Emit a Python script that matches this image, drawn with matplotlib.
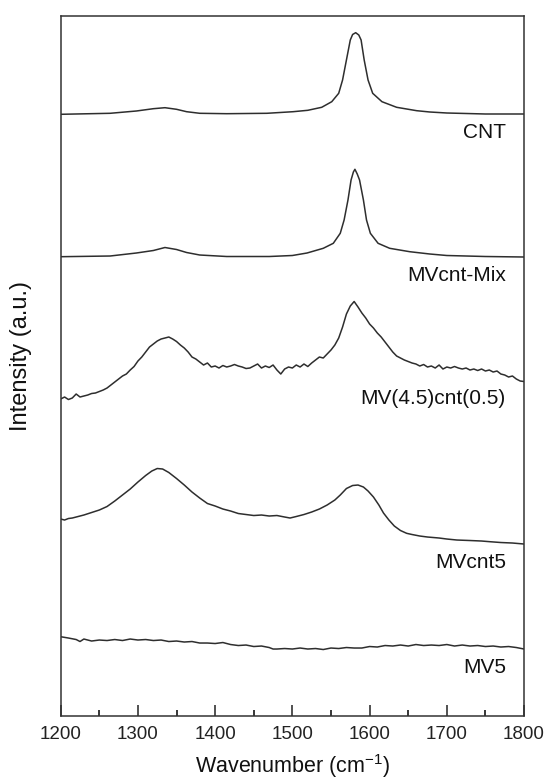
import numpy as np
import matplotlib
matplotlib.use("Agg")
import matplotlib.pyplot as plt
from matplotlib.ticker import MultipleLocator

plt.rcParams['font.family'] = ['Liberation Sans', 'DejaVu Sans']
plt.rcParams['mathtext.default'] = 'regular'

# stacked Raman spectra (arbitrary units, offsets already included)
cnt_wn = [1200, 1264, 1298, 1320, 1335, 1350, 1363, 1380, 1415, 1467, 1501, 1520,
          1538, 1551, 1560, 1565, 1570, 1575, 1578, 1582, 1586, 1589, 1593, 1598,
          1604, 1616, 1635, 1661, 1678, 1700, 1750, 1800]
cnt_int = [601.7, 602.7, 605, 607.3, 608.3, 606.7, 604.3, 602.7, 602.3, 602.7, 604.3, 605.7,
           608.7, 614.3, 622.7, 636, 656, 676, 681.5, 683.3, 681, 676, 656, 636,
           622.7, 614.3, 608.7, 605.3, 604, 603, 602, 602]

mix_wn = [1200, 1264, 1298, 1320, 1335, 1350, 1363, 1380, 1415, 1470, 1500, 1519,
          1540, 1553, 1562, 1567, 1572, 1576, 1579, 1581, 1584, 1587, 1592, 1596,
          1601, 1611, 1626, 1652, 1678, 1700, 1750, 1800]
mix_int = [459.3, 460, 463, 465.5, 468.5, 466.5, 463.5, 461, 459.5, 459.5, 460.5, 463,
           467.7, 472.7, 482.7, 496, 516, 536, 544, 546.7, 542, 536, 516, 496,
           482.7, 472.7, 467.7, 464.3, 462, 460.5, 459.5, 459]

mv45_wn = list(range(1200, 1801, 5))
mv45_int = [317, 319, 316.5, 318, 322, 319, 320, 321, 322.5, 323,
            324.5, 326, 328, 331, 334, 337, 340, 342, 346, 349.5,
            355, 359, 364, 369, 372, 375, 377, 378, 379, 377,
            374.5, 371, 368, 364, 359, 357, 354, 351, 353, 349,
            350, 348, 350.5, 349, 350, 351.5, 350, 349, 347.5, 348,
            350, 352, 348, 350, 348.5, 351, 346, 342, 347, 349,
            348, 351, 349, 352, 349.5, 353, 356, 359, 358, 362,
            366, 371, 378, 389, 402, 410, 414.5, 409, 403, 398,
            392, 388, 383, 379, 374, 369, 364, 360, 358, 356,
            354.5, 353, 352, 350, 351.5, 349, 350, 348, 351, 347,
            349, 348, 349.5, 348, 347, 348, 346, 347, 345.5, 347,
            345, 346, 344, 345, 342, 341, 339, 340, 337, 335,
            334.5]

mvc5_wn = [1200, 1205, 1210, 1215, 1220, 1230, 1240, 1250, 1260, 1270, 1280, 1290,
           1300, 1310, 1318, 1325, 1332, 1340, 1350, 1360, 1370, 1380, 1390, 1400,
           1410, 1420, 1430, 1440, 1450, 1460, 1470, 1480, 1490, 1497, 1505, 1515,
           1525, 1535, 1545, 1555, 1562, 1570, 1578, 1585, 1592, 1598, 1605, 1612,
           1618, 1625, 1632, 1640, 1648, 1655, 1665, 1675, 1690, 1700, 1713, 1730,
           1745, 1756, 1770, 1785, 1800]
mvc5_int = [197, 196, 197.5, 198, 199, 201, 203.5, 206, 209.5, 215, 221, 227,
            234, 240.5, 245, 247.5, 247, 243.5, 237.5, 231, 224, 218, 212.5, 210,
            207, 205, 202.5, 201.5, 200.5, 201, 200, 200.5, 199, 198, 199.5, 201.5,
            204, 207, 211, 216, 221, 227.5, 230.5, 231, 229, 225, 219, 211,
            203, 196, 190, 185.5, 182.7, 181.5, 180, 179, 178, 177, 176, 175.5,
            175, 174.3, 173.5, 173, 172]

mv5_wn = [1200, 1210, 1220, 1225, 1230, 1240, 1250, 1260, 1270, 1280, 1290, 1300,
          1310, 1320, 1330, 1340, 1350, 1360, 1370, 1380, 1390, 1400, 1410, 1420,
          1430, 1440, 1450, 1460, 1470, 1475, 1480, 1490, 1500, 1510, 1520, 1530,
          1540, 1550, 1560, 1570, 1580, 1590, 1600, 1610, 1620, 1630, 1640, 1650,
          1660, 1670, 1680, 1690, 1700, 1710, 1720, 1730, 1740, 1750, 1760, 1770,
          1780, 1790, 1800]
mv5_int = [79.3, 78, 76.5, 74.5, 77, 75, 76, 75.5, 76.5, 75.5, 77, 76,
           76.5, 75.5, 76, 74.5, 75, 74, 74.5, 73, 73, 72.5, 73.5, 71.5,
           70.5, 71, 69.5, 70, 68.5, 67, 67, 67.5, 67, 68, 67, 67.5,
           66.5, 68, 67.5, 68.5, 68, 68, 69.5, 69, 70.5, 70, 71, 70,
           71.5, 70.5, 71, 70.5, 71.5, 70, 71, 70, 70.5, 69.5, 70, 69,
           69.5, 68.5, 67]

names = ["CNT", "MVcnt-Mix", "MV(4.5)cnt(0.5)", "MVcnt5", "MV5"]
label_y = [0.833, 0.630, 0.454, 0.219, 0.069]

fig = plt.figure(figsize=(5.44, 7.84), dpi=100)
ax = fig.add_axes([0.1116, 0.0867, 0.8517, 0.8929])

line_kw = dict(color='#2e2e2e', lw=1.1)
for wn, y in [(cnt_wn, cnt_int), (mix_wn, mix_int), (mv45_wn, mv45_int),
              (mvc5_wn, mvc5_int), (mv5_wn, mv5_int)]:
    ax.plot(wn, y, **line_kw)

for name, ly in zip(names, label_y):
    ax.text(0.961, ly, name, transform=ax.transAxes, ha='right', va='center',
            fontsize=15, color='#111111')

ax.set_xlim(1200, 1800)
ax.set_ylim(0, 700)
ax.set_yticks([])
ax.xaxis.set_major_locator(MultipleLocator(100))
ax.xaxis.set_minor_locator(MultipleLocator(50))
ax.tick_params(axis='x', which='major', direction='in', length=8, width=1.1,
               labelsize=13.5, pad=7, colors='#222222')
ax.tick_params(axis='x', which='minor', direction='in', length=4, width=1.1)
for sp in ax.spines.values():
    sp.set_linewidth(1.1)
    sp.set_color('#333333')

ax.set_xlabel("Wavenumber (cm$^{-1}$)", fontsize=15.5, labelpad=7, color='#111111')
ax.set_ylabel("Intensity (a.u.)", fontsize=17, color='#111111')
ax.yaxis.set_label_coords(-0.062, 0.514)

fig.savefig("out.png", dpi=100)
